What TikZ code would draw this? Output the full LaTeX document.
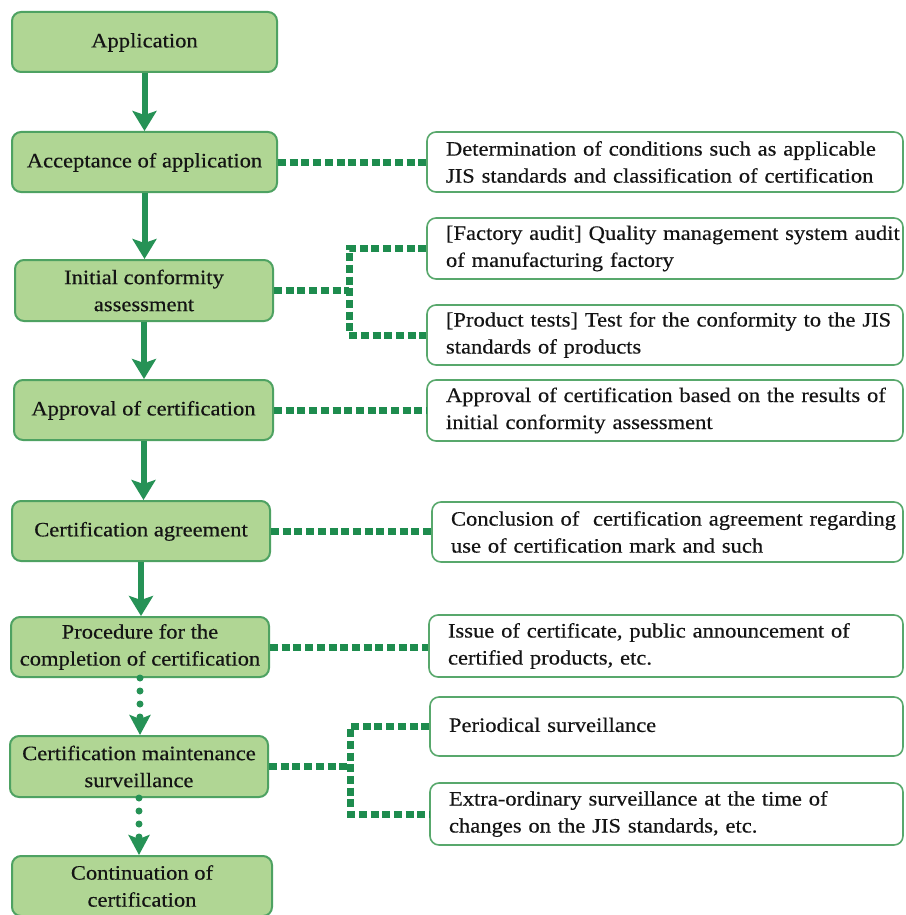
\documentclass[tikz,border=0pt]{standalone}
\usepackage{fontspec}
\setmainfont{Liberation Serif}[FakeStretch=1.1,FakeBold=0.4]
\usetikzlibrary{arrows.meta}

\definecolor{stagefill}{RGB}{176,214,148}
\definecolor{stageline}{RGB}{78,162,98}
\definecolor{flowgreen}{RGB}{38,146,86}
\definecolor{linkgreen}{RGB}{30,140,78}
\definecolor{noteline}{RGB}{88,168,108}
\definecolor{inktext}{RGB}{20,20,20}

\newcommand\oneline[1]{\mbox{#1}}

\begin{document}
\begin{tikzpicture}[x=1pt,y=-1pt,
  font=\fontsize{20.5}{27}\selectfont,
  text=inktext,
  stage/.style={draw=stageline, line width=2pt, fill=stagefill,
    rounded corners=9pt, align=center, inner sep=0pt},
  note/.style={draw=noteline, line width=1.6pt, fill=white,
    rounded corners=9pt, align=left, inner xsep=19pt, inner ysep=0pt,
    text width=#1},
  flow/.style={draw=flowgreen, line width=6pt,
    -{Stealth[length=20pt,width=24pt,inset=4pt]}},
  dotflow/.style={draw=flowgreen, line width=7pt, line cap=round,
    dash pattern=on 0pt off 13pt,
    -{Stealth[length=20pt,width=21pt,inset=4pt]}},
  link/.style={draw=linkgreen, line width=7pt, dash pattern=on 8pt off 3.7pt}
]
\path[fill=white,use as bounding box] (0,0) rectangle (905,915);

% process stages (left column)
\node[stage, minimum width=265pt, minimum height=60pt] (app)  at (144.5,42)  {\strut Application};
\node[stage, minimum width=265pt, minimum height=60pt] (acc)  at (144.5,162) {\strut Acceptance of application};
\node[stage, minimum width=258pt, minimum height=61pt] (ini)  at (144,290.5) {Initial conformity\\assessment};
\node[stage, minimum width=259pt, minimum height=60pt] (apr)  at (143.5,410) {\strut Approval of certification};
\node[stage, minimum width=258pt, minimum height=60pt] (agr)  at (141,531)   {\strut Certification agreement};
\node[stage, minimum width=258pt, minimum height=60pt] (proc) at (140,647)   {Procedure for the\\completion of certification};
\node[stage, minimum width=258pt, minimum height=61pt] (mnt)  at (139,766.5) {Certification maintenance\\surveillance};
\node[stage, minimum width=260pt, minimum height=60pt] (cont) at (142,886)   {Continuation of\\certification};

% explanations (right column)
\node[note=438pt, minimum height=60pt] (n1) at (665,162) {\oneline{Determination of conditions such as applicable}\\\oneline{JIS standards and classification of certification}};
\node[note=438pt, minimum height=61pt] (n2) at (665,248.5) {\oneline{[Factory audit] Quality management system audit}\\\oneline{of manufacturing factory}};
\node[note=438pt, minimum height=60pt] (n3) at (665,335) {\oneline{[Product tests] Test for the conformity to the JIS}\\\oneline{standards of products}};
\node[note=438pt, minimum height=61pt] (n4) at (665,410.5) {\oneline{Approval of certification based on the results of}\\\oneline{initial conformity assessment}};
\node[note=433pt, minimum height=60pt] (n5) at (667.5,532) {\oneline{Conclusion of\ \ certification agreement regarding}\\\oneline{use of certification mark and such}};
\node[note=436pt, minimum height=62pt] (n6) at (666,646) {\oneline{Issue of certificate, public announcement of}\\\oneline{certified products, etc.}};
\node[note=435pt, minimum height=59pt] (n7) at (666.5,726.5) {\strut\oneline{Periodical surveillance}};
\node[note=435pt, minimum height=62pt] (n8) at (666.5,814) {\oneline{Extra-ordinary surveillance at the time of}\\\oneline{changes on the JIS standards, etc.}};

% branch points of the forked links
\coordinate (fork1) at (349,290.5);
\coordinate (fork2) at (350,766.5);

% main flow
\draw[flow] (app.south) -- (app.south |- acc.north);
\draw[flow] (acc.south) -- (acc.south |- ini.north);
\draw[flow] (ini.south) -- (ini.south |- apr.north);
\draw[flow] (apr.south) -- (apr.south |- agr.north);
\draw[flow] (agr.south) -- (agr.south |- proc.north);
\draw[dotflow] (proc.south) -- (proc.south |- mnt.north);
\draw[dotflow] (mnt.south) -- (mnt.south |- cont.north);

% links to the explanations
\draw[link] (acc.east) -- (acc.east -| n1.west);
\draw[link] (ini.east) -- (fork1);
\draw[link] (n2.west) -| (fork1 |- n3.west) -- (n3.west);
\draw[link] (apr.east) -- (apr.east -| n4.west);
\draw[link] (agr.east) -- (agr.east -| n5.west);
\draw[link] (proc.east) -- (proc.east -| n6.west);
\draw[link] (mnt.east) -- (fork2);
\draw[link] (n7.west) -| (fork2 |- n8.west) -- (n8.west);
\end{tikzpicture}
\end{document}
